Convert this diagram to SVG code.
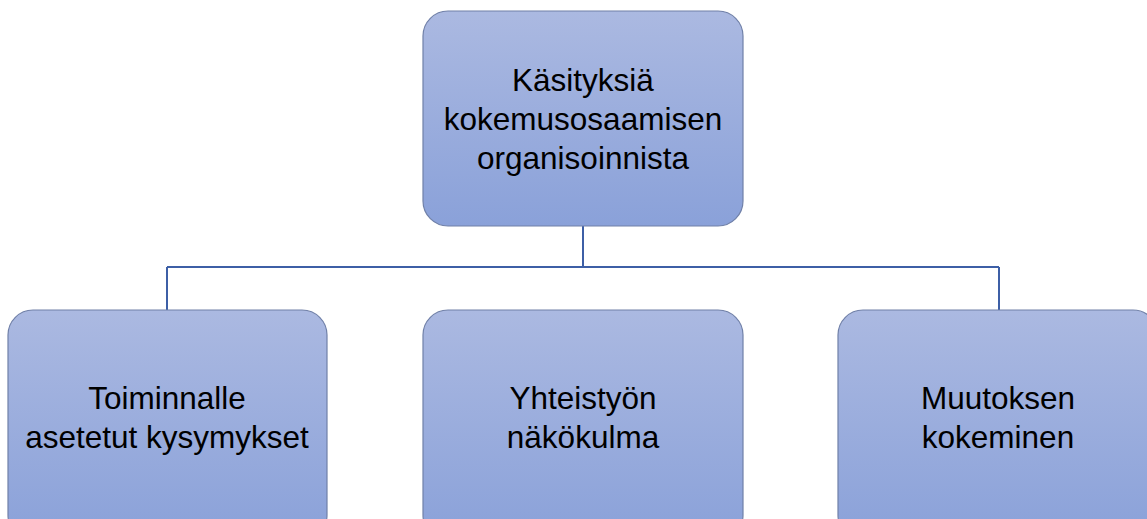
<svg xmlns="http://www.w3.org/2000/svg" width="1147" height="519" viewBox="0 0 1147 519">
<style>
.box{fill:url(#g);stroke:#7080a8;stroke-width:1.2}
.t{font-family:"Liberation Sans",Arial,sans-serif;font-size:31.5px;fill:#000;text-anchor:middle}
.c{fill:none;stroke:#3d5fa6;stroke-width:2}
</style>
<defs>
<linearGradient id="g" x1="0" y1="0" x2="0" y2="1">
<stop offset="0" stop-color="#abb9e1"/>
<stop offset="1" stop-color="#8aa1d9"/>
</linearGradient>
</defs>
<rect width="1147" height="519" fill="#fff"/>
<g id="connectors">
<path class="c" d="M583 226 V267 M167 267 H999 M167 267 V310 M999 267 V310"/>
</g>
<g id="root">
<rect class="box" x="423" y="11" width="320" height="215" rx="25"/>
<text class="t" x="583" y="91">Käsityksiä</text>
<text class="t" x="583" y="130">kokemusosaamisen</text>
<text class="t" x="583" y="169">organisoinnista</text>
</g>
<g id="n1">
<rect class="box" x="8" y="310" width="319" height="230" rx="25"/>
<text class="t" x="167" y="409">Toiminnalle</text>
<text class="t" x="167" y="448">asetetut kysymykset</text>
</g>
<g id="n2">
<rect class="box" x="423" y="310" width="320" height="230" rx="25"/>
<text class="t" x="583" y="409">Yhteistyön</text>
<text class="t" x="583" y="448">näkökulma</text>
</g>
<g id="n3">
<rect class="box" x="838" y="310" width="320" height="230" rx="25"/>
<text class="t" x="998" y="409">Muutoksen</text>
<text class="t" x="998" y="448">kokeminen</text>
</g>
</svg>
